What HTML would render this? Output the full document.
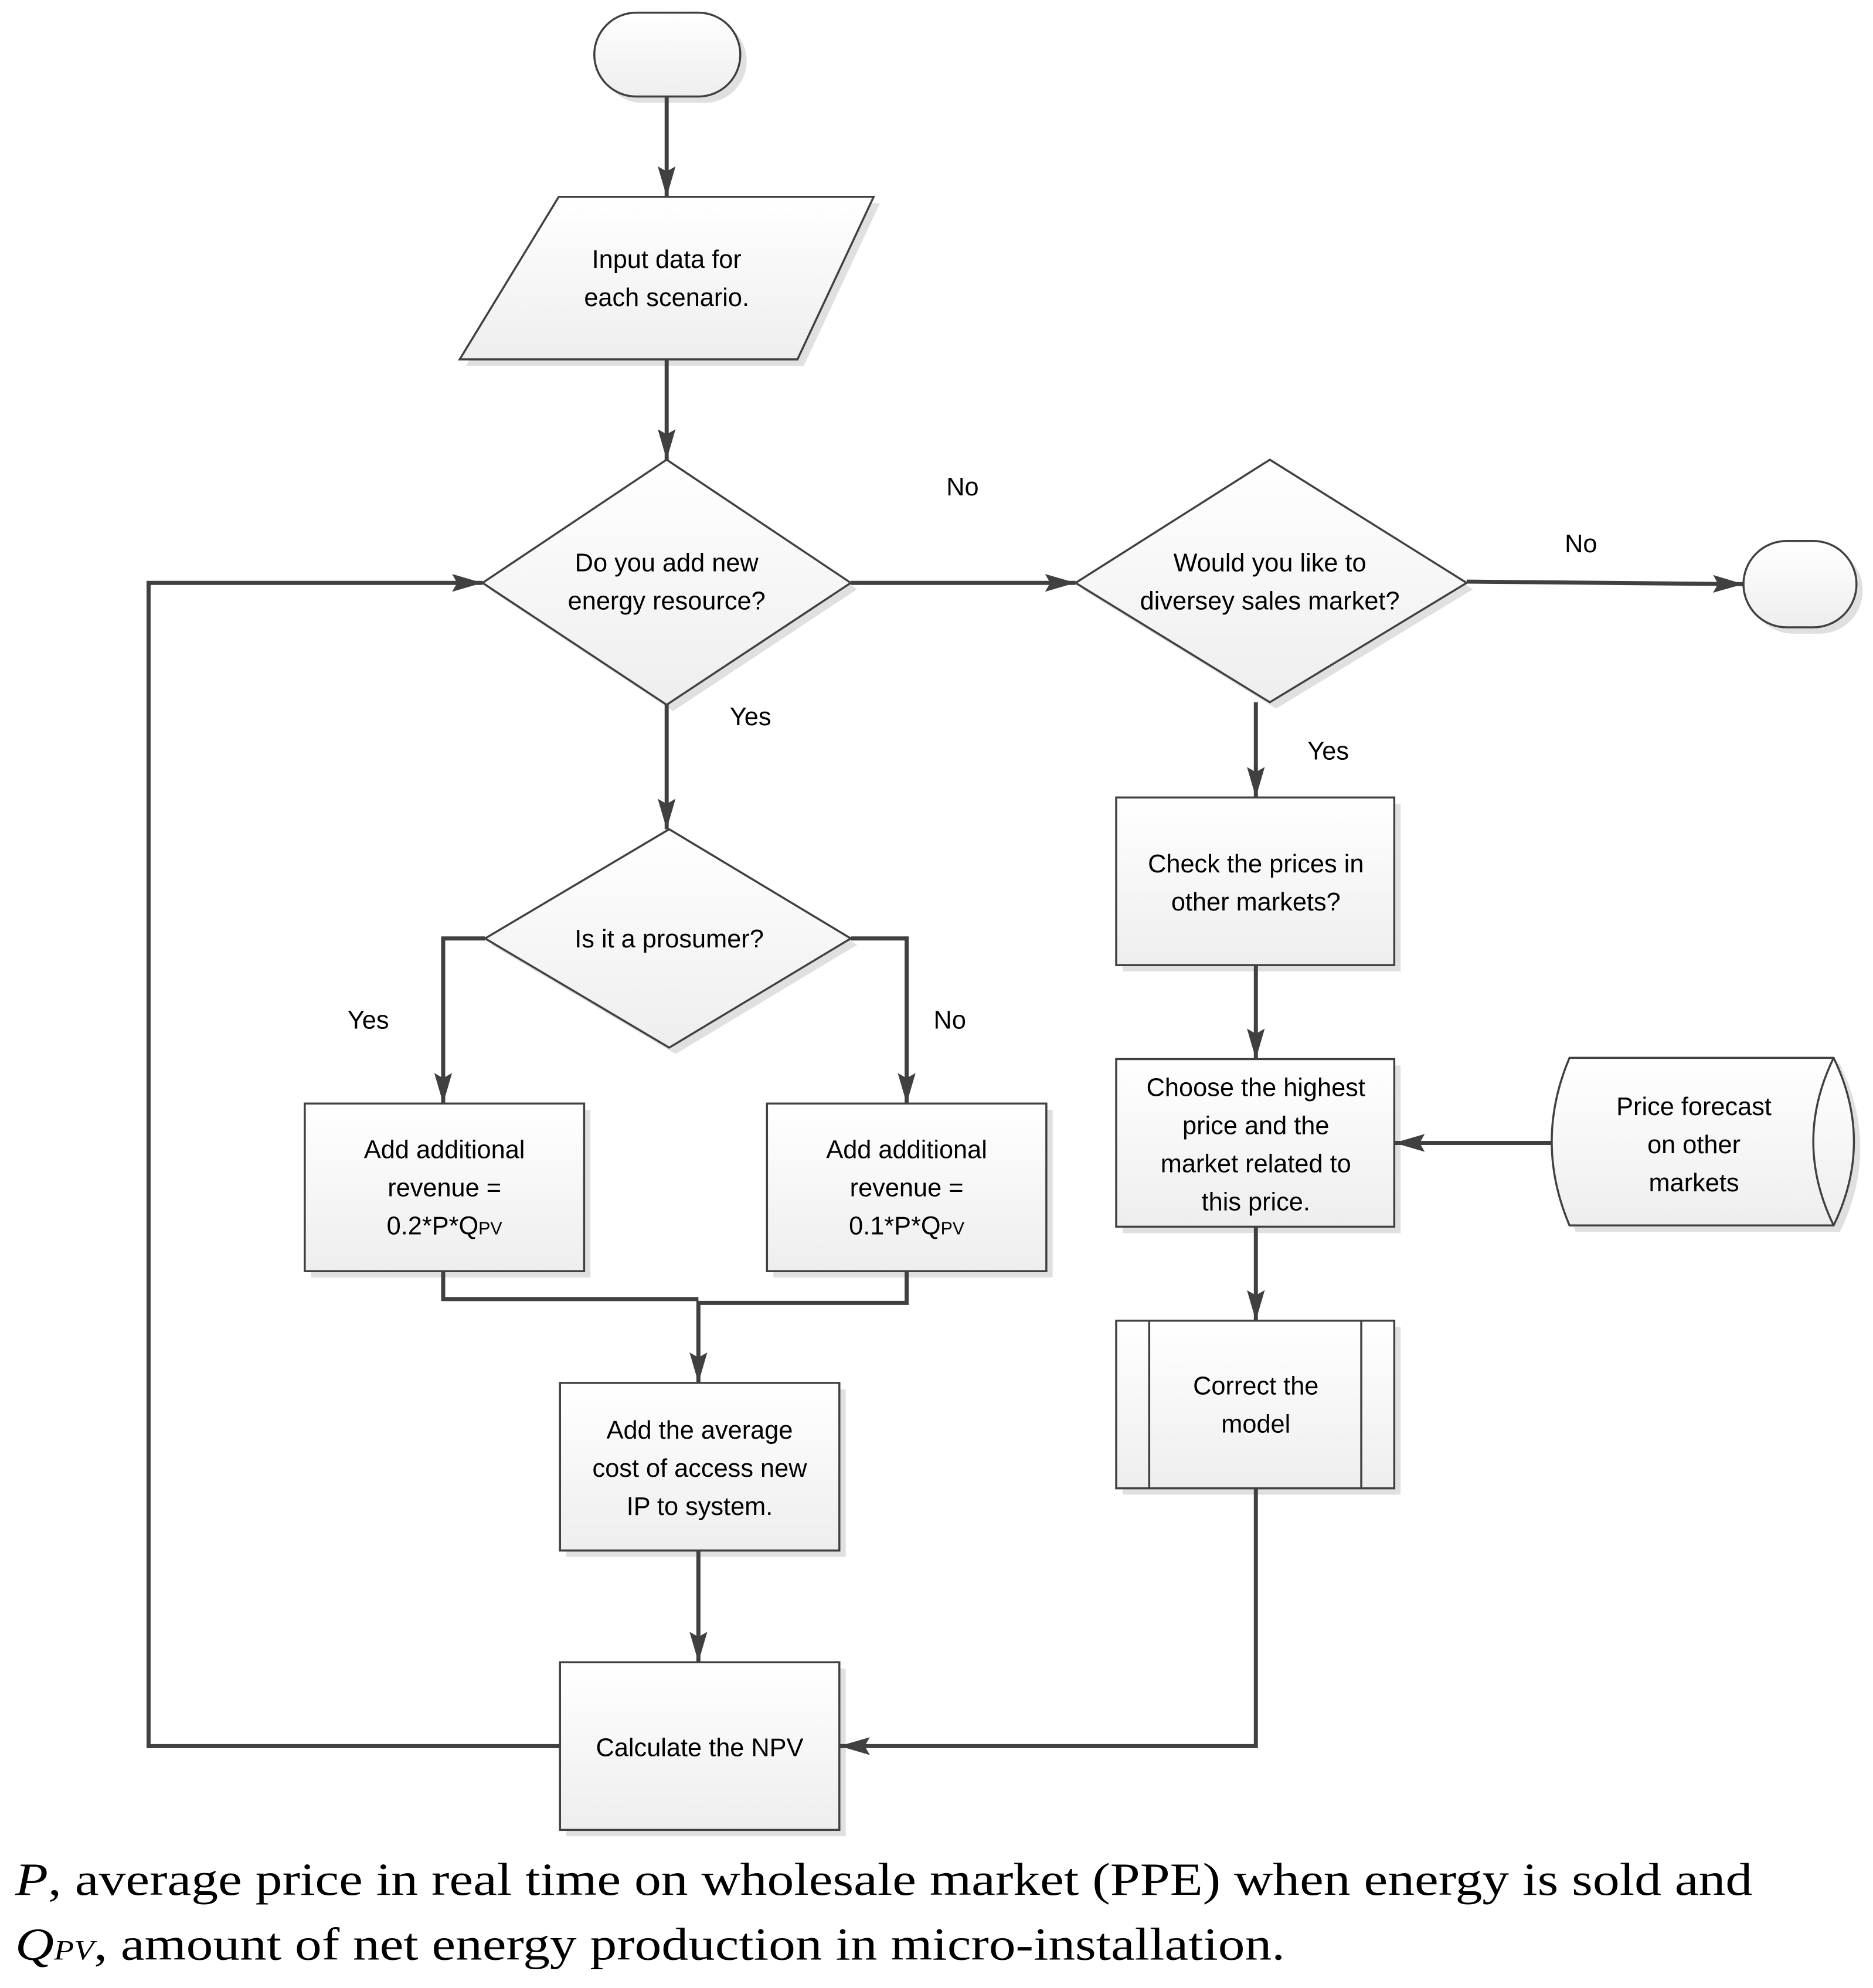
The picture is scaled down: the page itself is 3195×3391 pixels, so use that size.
<!DOCTYPE html>
<html><head><meta charset="utf-8"><style>html,body{margin:0;padding:0;background:#fff}svg{display:block}</style></head><body>
<svg xmlns="http://www.w3.org/2000/svg" width="3195" height="3391" viewBox="0 0 1475 1565.5">
<defs>
<linearGradient id="g" x1="0" y1="0" x2="0" y2="1"><stop offset="0" stop-color="#ffffff"/><stop offset="1" stop-color="#eeeeee"/></linearGradient>
<marker id="ar" viewBox="0 0 24 14" markerWidth="24" markerHeight="14" refX="24" refY="7" orient="auto" markerUnits="userSpaceOnUse"><path d="M0,0 L24,7 L0,14 L4,7 Z" fill="#404040"/></marker>
</defs>
<g fill="#e0e0e0">
<rect x="473" y="15" width="115" height="66" rx="33"/>
<polygon points="445,160 693,160 633,288 367,288"/>
<polygon points="530,367 675,464 530,560 385,464"/>
<polygon points="1005,367 1160,464 1005,558 852,464"/>
<rect x="1378" y="431" width="89" height="68" rx="34"/>
<polygon points="532,658 675,744 532,830 387,744"/>
<rect x="245" y="874" width="220" height="132"/>
<rect x="609" y="874" width="220" height="132"/>
<rect x="446" y="1094" width="220" height="132"/>
<rect x="446" y="1314" width="220" height="132"/>
<rect x="884" y="633" width="219" height="132"/>
<rect x="884" y="839" width="219" height="132"/>
<rect x="884" y="1045" width="219" height="132"/>
<path d="M1241,838 L1449,838 Q1481,904 1449,970 L1241,970 Q1213,904 1241,838 Z"/>
</g>
<g fill="url(#g)" stroke="#404040" stroke-width="1.6">
<rect x="468" y="10" width="115" height="66" rx="33"/>
<polygon points="440,155 688,155 628,283 362,283"/>
<polygon points="525,362 670,459 525,555 380,459"/>
<polygon points="1000,362 1155,459 1000,553 847,459"/>
<rect x="1373" y="426" width="89" height="68" rx="34"/>
<polygon points="527,653 670,739 527,825 382,739"/>
<rect x="240" y="869" width="220" height="132"/>
<rect x="604" y="869" width="220" height="132"/>
<rect x="441" y="1089" width="220" height="132"/>
<rect x="441" y="1309" width="220" height="132"/>
<rect x="879" y="628" width="219" height="132"/>
<rect x="879" y="834" width="219" height="132"/>
<rect x="879" y="1040" width="219" height="132"/>
<path d="M1236,833 L1444,833 Q1476,899 1444,965 L1236,965 Q1208,899 1236,833 Z"/>
<path d="M1444,833 Q1412,899 1444,965" fill="none"/>
<line x1="905" y1="1040" x2="905" y2="1172"/>
<line x1="1072" y1="1040" x2="1072" y2="1172"/>
</g>
<g fill="none" stroke="#404040" stroke-width="3.2" stroke-linejoin="miter">
<line x1="525" y1="76" x2="525" y2="155" marker-end="url(#ar)"/>
<line x1="525" y1="283" x2="525" y2="362" marker-end="url(#ar)"/>
<line x1="670" y1="459" x2="847" y2="459" marker-end="url(#ar)"/>
<line x1="1155" y1="458" x2="1373" y2="460" marker-end="url(#ar)"/>
<line x1="525" y1="555" x2="525" y2="653" marker-end="url(#ar)"/>
<polyline points="382,739 349,739 349,869" marker-end="url(#ar)"/>
<polyline points="670,739 714,739 714,869" marker-end="url(#ar)"/>
<polyline points="349,1001 349,1023 550,1023"/>
<polyline points="714,1001 714,1026 550,1026 550,1089" marker-end="url(#ar)"/>
<line x1="550" y1="1221" x2="550" y2="1309" marker-end="url(#ar)"/>
<polyline points="441,1375 117,1375 117,459 380,459" marker-end="url(#ar)"/>
<line x1="989" y1="553" x2="989" y2="628" marker-end="url(#ar)"/>
<line x1="989" y1="760" x2="989" y2="834" marker-end="url(#ar)"/>
<line x1="1222" y1="900" x2="1098" y2="900" marker-end="url(#ar)"/>
<line x1="989" y1="966" x2="989" y2="1040" marker-end="url(#ar)"/>
<polyline points="989,1172 989,1375 661,1375" marker-end="url(#ar)"/>
</g>
<g font-family="Liberation Sans, sans-serif" font-size="20" fill="#000" text-anchor="middle">
<text x="525" y="211">Input data for</text><text x="525" y="241">each scenario.</text>
<text x="525" y="450">Do you add new</text><text x="525" y="480">energy resource?</text>
<text x="1000" y="450">Would you like to</text><text x="1000" y="480">diversey sales market?</text>
<text x="527" y="746">Is it a prosumer?</text>
<text x="350" y="912">Add additional</text><text x="350" y="942">revenue =</text><text x="350" y="972">0.2*P*Q<tspan font-size="14">PV</tspan></text>
<text x="714" y="912">Add additional</text><text x="714" y="942">revenue =</text><text x="714" y="972">0.1*P*Q<tspan font-size="14">PV</tspan></text>
<text x="551" y="1133">Add the average</text><text x="551" y="1163">cost of access new</text><text x="551" y="1193">IP to system.</text>
<text x="551" y="1383">Calculate the NPV</text>
<text x="989" y="687">Check the prices in</text><text x="989" y="717">other markets?</text>
<text x="989" y="863">Choose the highest</text><text x="989" y="893">price and the</text><text x="989" y="923">market related to</text><text x="989" y="953">this price.</text>
<text x="1334" y="878">Price forecast</text><text x="1334" y="908">on other</text><text x="1334" y="938">markets</text>
<text x="989" y="1098">Correct the</text><text x="989" y="1128">model</text>
<text x="758" y="390">No</text><text x="1245" y="435">No</text>
<text x="591" y="571">Yes</text><text x="1046" y="598">Yes</text>
<text x="290" y="810">Yes</text><text x="748" y="810">No</text>
</g>
<g font-family="Liberation Serif, serif" font-size="36" fill="#000">
<text x="12" y="1492" textLength="1368" lengthAdjust="spacingAndGlyphs"><tspan font-style="italic">P</tspan>, average price in real time on wholesale market (PPE) when energy is sold and</text>
<text x="12" y="1543" textLength="1000" lengthAdjust="spacingAndGlyphs"><tspan font-style="italic">Q</tspan><tspan font-style="italic" font-size="22">PV</tspan>, amount of net energy production in micro-installation.</text>
</g>
</svg>
</body></html>
